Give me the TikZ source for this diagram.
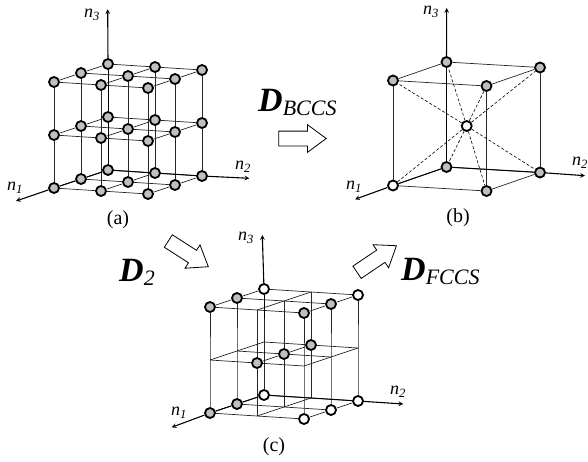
\documentclass[tikz,border=0pt]{standalone}
\usepackage{fontspec}
\setmainfont{Liberation Serif}
\usetikzlibrary{shapes,arrows}

\newcommand{\bigD}[1]{{\fontsize{34}{34}\selectfont\bfseries\itshape D}\raisebox{-4pt}{\fontsize{22}{22}\selectfont\itshape #1}}
\newcommand{\axn}[1]{\textit{n\textsubscript{#1}}}

\begin{document}
\begin{tikzpicture}[
  x=1pt,y=-1pt,
  site/.style={circle,draw=black,line width=1.8pt,fill=gray!50,minimum size=10pt,inner sep=0pt},
  opensite/.style={site,fill=white},
  edge/.style={line width=0.7pt,black!85},
  axisline/.style={->,>=stealth,line width=1.1pt,black},
  axisbase/.style={line width=1.0pt,black},
  diag/.style={densely dashed,line width=0.6pt,black},
  axlabel/.style={font=\fontsize{18}{18}\selectfont,inner sep=0pt},
  caption/.style={font=\fontsize{20}{20}\selectfont,inner sep=0pt},
  biglabel/.style={anchor=base west,inner sep=0pt},
  hollow/.style={single arrow,draw=black,line width=0.8pt,fill=white,anchor=tail,
                 inner xsep=0pt,inner ysep=7pt,
                 minimum height=47.5pt,minimum width=27pt,single arrow head extend=6.5pt,
                 single arrow tip angle=73}
]
\useasboundingbox (0,0) rectangle (588,461);

% ===== LATTICE POINTS =====
\foreach \p/\ox/\oy in {a/54/188,c/210/413} {
  \foreach \i in {0,1,2} {
    \foreach \j in {0,1,2} {
      \foreach \k in {0,1,2} {
        \coordinate (\p\i\j\k) at ({\ox+47*\j+27*\i},{\oy+3*\j-9*\i-53*\k});
      }
    }
  }
}
\foreach \i in {0,1} {
  \foreach \j in {0,1} {
    \foreach \k in {0,1} {
      \coordinate (b\i\j\k) at ({393+93.5*\j+53.5*\i},{185.5+5.5*\j-18.5*\i-105*\k});
    }
  }
}

% ===== SITES =====
\foreach \i in {0,1,2} {
  \foreach \j in {0,1,2} {
    \foreach \k in {0,1,2} {
      \node[site] (a\i\j\k) at (a\i\j\k) {};
    }
  }
}
\foreach \n in {001,011,101,111,010,100,110} {
  \node[site] (b\n) at (b\n) {};
}
\node[opensite] (b000) at (b000) {};
\node[opensite] (bc) at (466.7,126) {};
\foreach \n in {002,102,022,122,011,111,211,100,000} {
  \node[site] (c\n) at (c\n) {};
}
\foreach \n in {202,222,200,220,120,020} {
  \node[opensite] (c\n) at (c\n) {};
}

% ===== LATTICE LINES =====
\foreach \p in {a,c} {
  \foreach \u in {0,1,2} {
    \foreach \v in {0,1,2} {
      \draw[edge] (\p\u0\v) -- (\p\u1\v) -- (\p\u2\v);
      \draw[edge] (\p0\u\v) -- (\p1\u\v) -- (\p2\u\v);
      \draw[edge] (\p\u\v0) -- (\p\u\v1) -- (\p\u\v2);
    }
  }
}
\foreach \u in {0,1} {
  \foreach \v in {0,1} {
    \draw[edge] (b\u0\v) -- (b\u1\v);
    \draw[edge] (b0\u\v) -- (b1\u\v);
    \draw[edge] (b\u\v0) -- (b\u\v1);
  }
}
\foreach \n in {000,010,100,110,001,011,101,111} {
  \draw[diag] (bc) -- (b\n);
}

% ===== AXES =====
\coordinate (a_t1) at (16,201);
\coordinate (a_t2) at (249.3,178.3);
\coordinate (a_t3) at (107.7,9.3);
\coordinate (b_t1) at (355,199.3);
\coordinate (b_t2) at (585,175.7);
\coordinate (b_t3) at (446.7,8);
\coordinate (c_t1) at (171.7,427.3);
\coordinate (c_t2) at (403.3,404);
\coordinate (c_t3) at (262.3,235);

\foreach \p in {a,c} {
  \draw[axisbase] (\p200) -- (\p100) -- (\p000);
  \draw[axisbase] (\p200) -- (\p210) -- (\p220);
  \draw[axisbase] (\p200) -- (\p201) -- (\p202);
  \draw[axisline] (\p000) -- (\p_t1);
  \draw[axisline] (\p220) -- (\p_t2);
  \draw[axisline] (\p202) -- (\p_t3);
}
\draw[axisbase] (b100) -- (b000);
\draw[axisbase] (b100) -- (b110);
\draw[axisbase] (b100) -- (b101);
\draw[axisline] (b000) -- (b_t1);
\draw[axisline] (b110) -- (b_t2);
\draw[axisline] (b101) -- (b_t3);

% ===== AXIS LABELS =====
\node[axlabel] (a_n1) at (15,188) {\axn{1}};
\node[axlabel] (a_n2) at (243,167) {\axn{2}};
\node[axlabel] (a_n3) at (92,15) {\axn{3}};
\node[axlabel] (b_n1) at (354,187) {\axn{1}};
\node[axlabel] (b_n2) at (580,163) {\axn{2}};
\node[axlabel] (b_n3) at (431,12) {\axn{3}};
\node[axlabel] (c_n1) at (179,413) {\axn{1}};
\node[axlabel] (c_n2) at (398,392) {\axn{2}};
\node[axlabel] (c_n3) at (246,238) {\axn{3}};

% ===== CAPTIONS =====
\node[caption] (cap_a) at (118,220) {(a)};
\node[caption] (cap_b) at (458,218) {(b)};
\node[caption] (cap_c) at (274,447) {(c)};

% ===== OPERATORS =====
\node[biglabel] (d_bccs) at (258,111.5) {\bigD{BCCS}};
\node[biglabel] (d_two) at (119,281.5) {\bigD{2}};
\node[biglabel] (d_fccs) at (401,280.5) {\bigD{FCCS}};

\node[hollow] (arr_bccs) at (278.3,138.5) {};
\node[hollow,rotate=-32.7] (arr_two) at (168,240.8) {};
\node[hollow,rotate=34] (arr_fccs) at (356.7,272.5) {};

\end{tikzpicture}
\end{document}
